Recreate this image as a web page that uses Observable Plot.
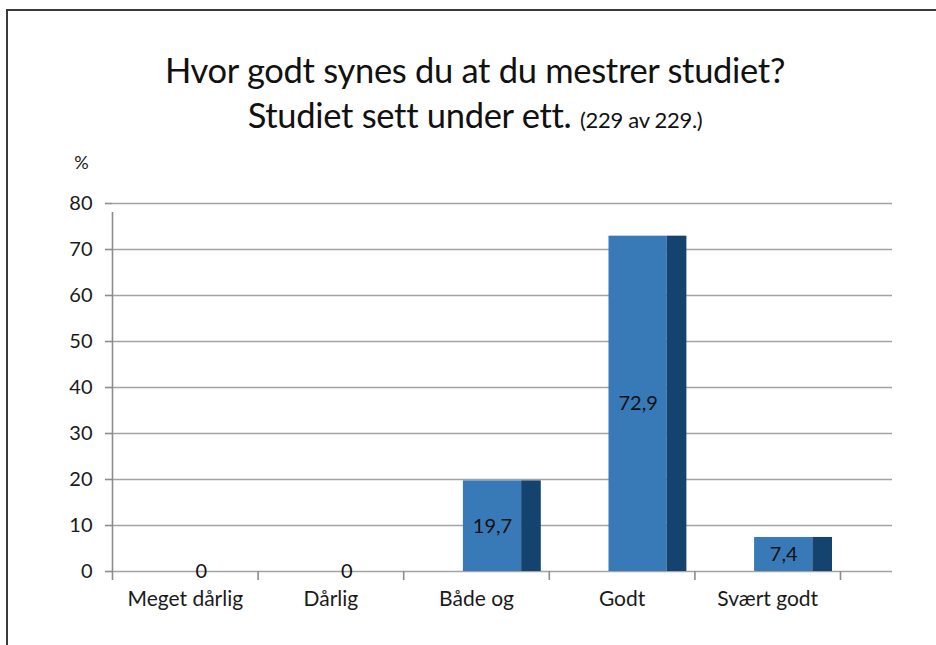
<!DOCTYPE html>
<html>
<head>
<meta charset="utf-8">
<script src="https://cdn.jsdelivr.net/npm/d3@7"></script>
<script src="https://cdn.jsdelivr.net/npm/@observablehq/plot@0.6"></script>
<style>
  html, body { margin: 0; padding: 0; background: #fff; }
  body { width: 936px; height: 645px; position: relative; overflow: hidden; font-family: Lato, "Open Sans", sans-serif; }
  #frame { position: absolute; left: 6px; top: 9px; width: 940px; height: 650px; border-top: 2px solid #3a3a3a; border-left: 2px solid #3a3a3a; }
  #title { position: absolute; left: 0; top: 47px; width: 950px; text-align: center; color: #111; font-size: 34.5px; line-height: 45px; letter-spacing: -0.3px; }
  #title .small { font-size: 22px; letter-spacing: -0.3px; }
  #chart { position: absolute; left: 0; top: 140px; }
</style>
</head>
<body>
<div id="frame"></div>
<div id="title">
  <div>Hvor godt synes du at du mestrer studiet?</div>
  <div>Studiet sett under ett. <span class="small">(229 av 229.)</span></div>
</div>
<div id="chart"></div>
<script>
const categories = ["Meget dårlig", "Dårlig", "Både og", "Godt", "Svært godt"];
const values = [0, 0, 19.7, 72.9, 7.4];
const yTicks = [0, 10, 20, 30, 40, 50, 60, 70, 80];
const yLabel = "%";

const data = categories.map((c, i) => ({cat: c, i, value: values[i]}));
const fmt = v => v === 0 ? "0" : v.toFixed(1).replace(".", ",");

const boundaries = d3.range(categories.length + 1);
const centers = categories.map((c, i) => i + 0.5);

const chart = Plot.plot({
  width: 936,
  height: 505,
  marginLeft: 112,
  marginRight: 44,
  marginTop: 63,
  marginBottom: 74,
  x: {type: "linear", domain: [0, categories.length], range: [112, 840], axis: null},
  y: {domain: [0, 80], axis: null},
  style: {fontFamily: "Lato, 'Open Sans', sans-serif", color: "#1a1a1a", background: "transparent"},
  marks: [
    Plot.ruleY(yTicks, {stroke: "#a3a3a3", strokeWidth: 1.6}),
    Plot.ruleX([0], {y1: 0, y2: 80, stroke: "#8c8c8c", strokeWidth: 1.6, insetBottom: -9}),
    Plot.axisY({ticks: yTicks, tickSize: 7, tickPadding: 13, fontSize: 20, stroke: "#8c8c8c", strokeWidth: 1.6, label: null, color: "#1a1a1a"}),
    Plot.axisX({ticks: boundaries, tickSize: 9, tickFormat: () => "", stroke: "#8c8c8c", strokeWidth: 1.6, label: null}),
    Plot.axisX({ticks: centers, tickSize: 0, tickPadding: 20, fontSize: 21, tickFormat: t => categories[Math.floor(t)], label: null, color: "#1a1a1a"}),
    Plot.rectY(data, {x1: d => d.i + 0.41, x2: d => d.i + 0.81, y: "value", fill: "#387ab8"}),
    Plot.rectY(data, {x1: d => d.i + 0.81, x2: d => d.i + 0.945, y: "value", fill: "#15436f"}),
    Plot.text(data, {x: d => d.i + 0.61, y: d => d.value / 2, text: d => fmt(d.value), fontSize: 20, fill: "#111"}),
    Plot.text([yLabel], {frameAnchor: "top-left", textAnchor: "middle", lineAnchor: "middle", dx: -31, dy: -40, fontSize: 18, fill: "#1a1a1a"})
  ]
});
document.getElementById("chart").appendChild(chart);
</script>
</body>
</html>
